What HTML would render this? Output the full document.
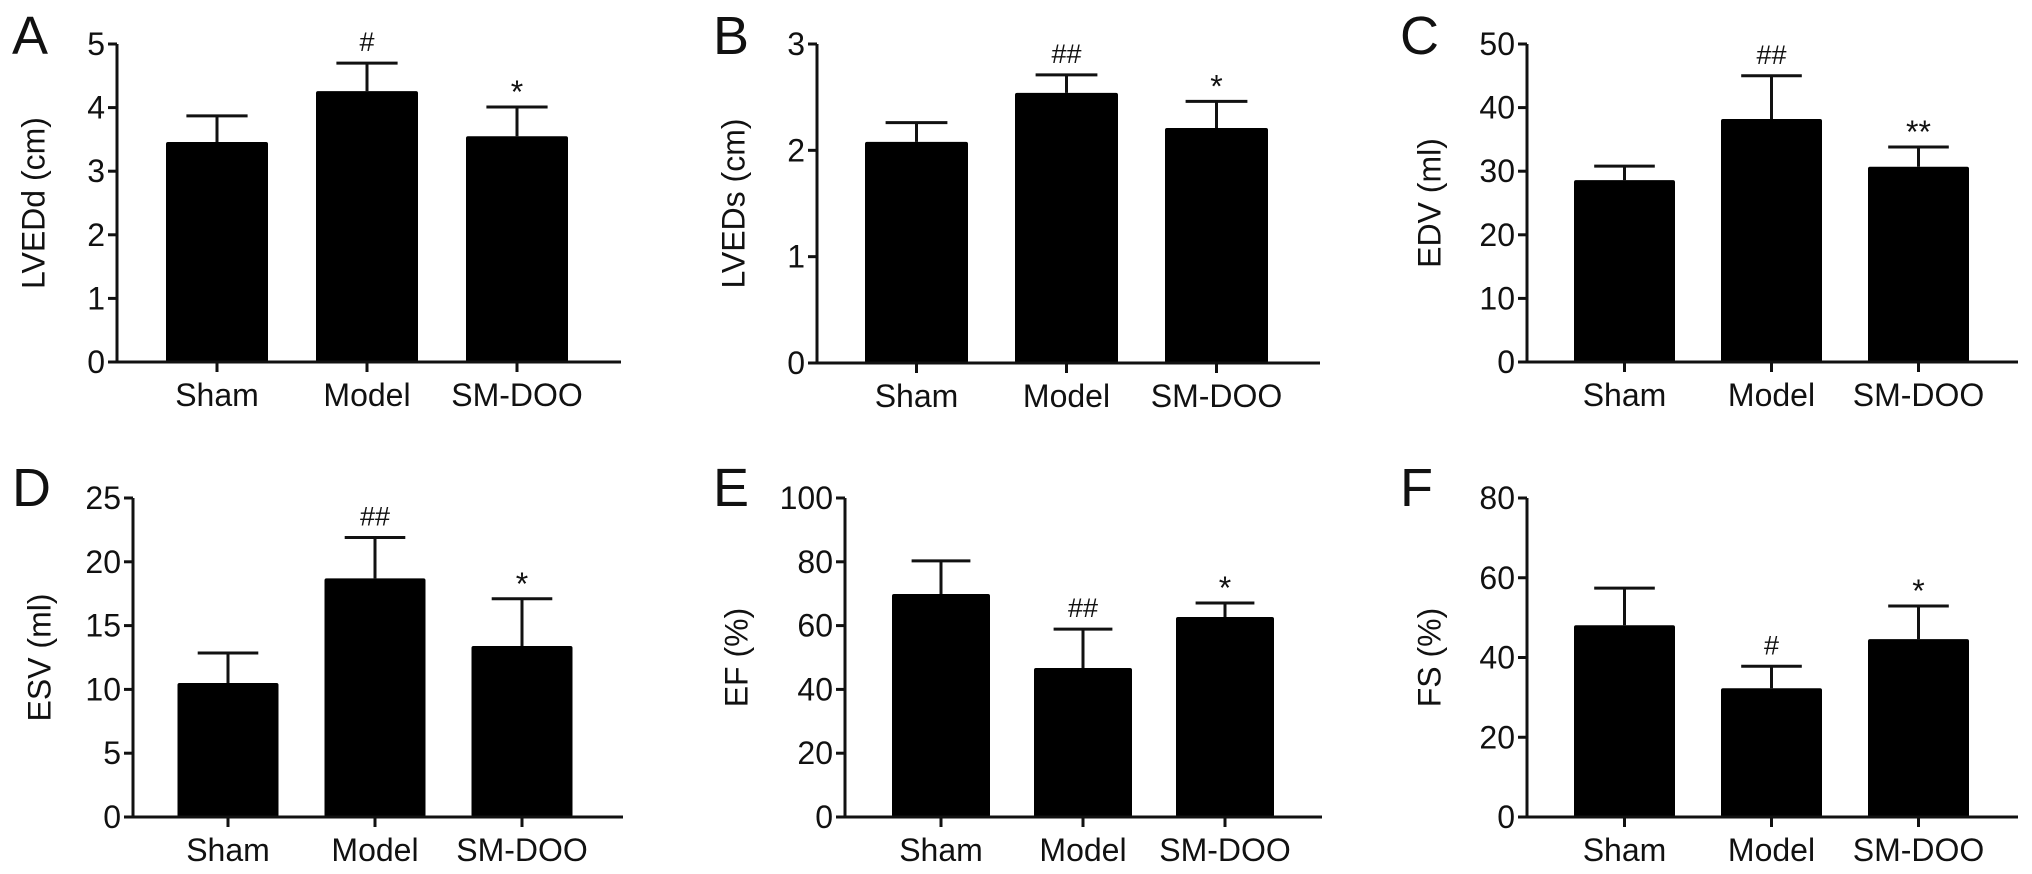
<!DOCTYPE html>
<html><head><meta charset="utf-8"><style>
html,body{margin:0;padding:0;background:#fff;}
svg{display:block;font-family:"Liberation Sans",Arial,sans-serif;}
</style></head><body>
<svg id="fig" width="2032" height="874" viewBox="0 0 2032 874"></svg>
<script>
const categories = ["Sham","Model","SM-DOO"];
const lveddMeans = [3.46,4.26,3.55];
const lveddSem = [0.41,0.44,0.46];
const lvedsMeans = [2.08,2.54,2.21];
const lvedsSem = [0.18,0.17,0.25];
const edvMeans = [28.6,38.2,30.7];
const edvSem = [2.2,6.8,3.1];
const esvMeans = [10.5,18.7,13.4];
const esvSem = [2.35,3.2,3.7];
const efMeans = [69.9,46.7,62.7];
const efSem = [10.4,12.2,4.4];
const fsMeans = [48.1,32.3,44.6];
const fsSem = [9.3,5.5,8.3];
const lveddSig = ["","#","*"];
const lvedsSig = ["","##","*"];
const edvSig = ["","##","**"];
const esvSig = ["","##","*"];
const efSig = ["","##","*"];
const fsSig = ["","#","*"];
const lveddTicks = [0,1,2,3,4,5];
const lvedsTicks = [0,1,2,3];
const edvTicks = [0,10,20,30,40,50];
const esvTicks = [0,5,10,15,20,25];
const efTicks = [0,20,40,60,80,100];
const fsTicks = [0,20,40,60,80];

const panels = [
 {id:"a",letter:"A",title:"LVEDd (cm)",means:lveddMeans,sem:lveddSem,sig:lveddSig,ticks:lveddTicks,
  ax:117,axEnd:621,y0:362,yTop:44,first:217,gap:150,bw:102,titleX:36,lx:12,ly:54},
 {id:"b",letter:"B",title:"LVEDs (cm)",means:lvedsMeans,sem:lvedsSem,sig:lvedsSig,ticks:lvedsTicks,
  ax:817,axEnd:1320,y0:363,yTop:44,first:916.5,gap:150,bw:103,titleX:736,lx:713,ly:54},
 {id:"c",letter:"C",title:"EDV (ml)",means:edvMeans,sem:edvSem,sig:edvSig,ticks:edvTicks,
  ax:1527,axEnd:2018,y0:362,yTop:44,first:1624.5,gap:147,bw:101,titleX:1432,lx:1400,ly:54},
 {id:"d",letter:"D",title:"ESV (ml)",means:esvMeans,sem:esvSem,sig:esvSig,ticks:esvTicks,
  ax:133,axEnd:623,y0:817,yTop:498,first:228,gap:147,bw:101,titleX:42,lx:12,ly:506},
 {id:"e",letter:"E",title:"EF (%)",means:efMeans,sem:efSem,sig:efSig,ticks:efTicks,
  ax:845,axEnd:1322,y0:817,yTop:498,first:941,gap:142,bw:98,titleX:739,lx:713,ly:506},
 {id:"f",letter:"F",title:"FS (%)",means:fsMeans,sem:fsSem,sig:fsSig,ticks:fsTicks,
  ax:1527,axEnd:2018,y0:817,yTop:498,first:1624.5,gap:147,bw:101,titleX:1432,lx:1400,ly:506}
];

const NS="http://www.w3.org/2000/svg";
const svg=document.getElementById("fig");
function mk(tag,attrs,parent,text){
  const e=document.createElementNS(NS,tag);
  for(const k in attrs) e.setAttribute(k,attrs[k]);
  if(text!==undefined) e.textContent=text;
  parent.appendChild(e);
  return e;
}
panels.forEach(p=>{
  const g=mk("g",{},svg);
  
  
  const maxV=p.ticks[p.ticks.length-1];
  const y=v=>p.y0-(v/maxV)*(p.y0-p.yTop);
  const x=i=>p.first+i*p.gap;
  const L=mk("text",{x:p.lx,y:p.ly,"font-size":54,fill:"#111"},g,p.letter);
  
  
  p.means.forEach((m,i)=>{
    const top=y(m), et=y(m+p.sem[i]);
    const cx=x(i);
    const eb=mk("path",{d:`M${cx} ${top}V${et}M${cx-p.bw*0.3} ${et}H${cx+p.bw*0.3}`,stroke:"#111","stroke-width":3,fill:"none"},g);
    
    
    const r=mk("rect",{x:cx-p.bw/2,y:top,width:p.bw,height:p.y0-top,fill:"#000",rx:2},g);
    
    
    if(p.sig[i]){
      const star=p.sig[i].indexOf("*")>=0;
      const s=mk("text",{x:cx,y:star?et-4:et-12,"font-size":star?32:27,"text-anchor":"middle",fill:"#111"},g,p.sig[i]);
      
      
    }
    const tk=mk("line",{x1:cx,x2:cx,y1:p.y0,y2:p.y0+10,stroke:"#111","stroke-width":3},g);
    
    
    const cl=mk("text",{x:cx,y:p.y0+44,"font-size":32,"text-anchor":"middle",fill:"#111"},g,categories[i]);
    
    
  });
  const axes=mk("path",{d:`M${p.ax} ${p.yTop}V${p.y0}H${p.axEnd}`,stroke:"#111","stroke-width":3,fill:"none"},g);
  
  
  p.ticks.forEach(t=>{
    const ty=y(t);
    const tl=mk("line",{x1:p.ax-9,x2:p.ax,y1:ty,y2:ty,stroke:"#111","stroke-width":3},g);
    
    
    const tt=mk("text",{x:p.ax-12,y:ty+11,"font-size":32,"text-anchor":"end",fill:"#111"},g,String(t));
    
    
  });
  const cy=(p.y0+p.yTop)/2;
  const yt=mk("text",{x:p.titleX,y:cy,"font-size":32,"text-anchor":"middle",fill:"#111",transform:`rotate(-90 ${p.titleX} ${cy})`,"dominant-baseline":"middle"},g,p.title);
  
  
});
</script>
</body></html>
